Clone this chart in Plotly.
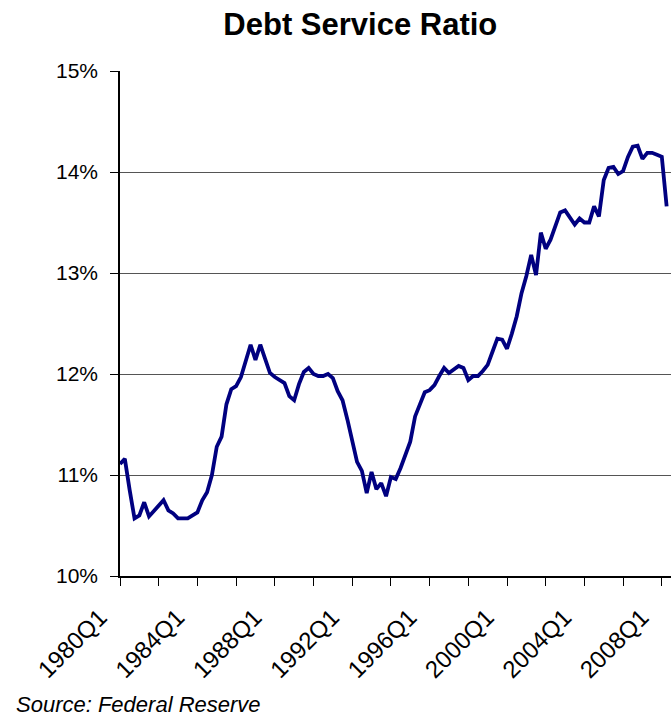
import plotly.graph_objects as go

# Quarterly debt service ratio (%), 1980Q1 .. 2008Q2
start_year = 1980
dsr = [
    11.11, 11.16, 10.85, 10.57, 10.60, 10.73, 10.59, 10.64, 10.69, 10.75,
    10.65, 10.62, 10.57, 10.57, 10.57, 10.60, 10.63, 10.75, 10.83, 11.00,
    11.28, 11.38, 11.70, 11.85, 11.88, 11.97, 12.12, 12.29, 12.14, 12.29,
    12.15, 12.01, 11.97, 11.94, 11.91, 11.78, 11.74, 11.90, 12.02, 12.06,
    12.00, 11.98, 11.98, 12.00, 11.96, 11.83, 11.74, 11.55, 11.33, 11.13,
    11.04, 10.82, 11.03, 10.86, 10.92, 10.79, 10.98, 10.96, 11.07, 11.19,
    11.33, 11.58, 11.69, 11.82, 11.84, 11.89, 11.98, 12.06, 12.01, 12.05,
    12.08, 12.06, 11.94, 11.98, 11.98, 12.03, 12.09, 12.22, 12.35, 12.34,
    12.25, 12.40, 12.57, 12.80, 12.97, 13.18, 12.98, 13.40, 13.24, 13.33,
    13.47, 13.60, 13.62, 13.55, 13.48, 13.54, 13.50, 13.50, 13.66, 13.56,
    13.92, 14.04, 14.05, 13.98, 14.01, 14.15, 14.25, 14.26, 14.13, 14.19,
    14.19, 14.17, 14.15, 13.66,
]
quarters = [f"{start_year + i // 4}Q{i % 4 + 1}" for i in range(len(dsr))]
idx = list(range(len(dsr)))

tick_pos = list(range(0, len(dsr), 8))
tick_text = [quarters[i] if i % 16 == 0 else "" for i in tick_pos]

y_ticks = [10, 11, 12, 13, 14, 15]
y_text = [f"{v}%" for v in y_ticks]

fig = go.Figure()
fig.add_trace(go.Scatter(
    x=idx, y=dsr, mode="lines",
    line=dict(color="#000080", width=3.8),
    text=quarters, hoverinfo="text+y", showlegend=False,
))

fig.update_layout(
    width=671, height=716,
    margin=dict(l=120, r=0, t=71, b=140),
    paper_bgcolor="white", plot_bgcolor="white",
    font=dict(family="Liberation Sans, Arial, sans-serif", color="black"),
    title=dict(text="<b>Debt Service Ratio</b>", x=0.537, xanchor="center",
               y=0.966, yanchor="middle", font=dict(size=31, color="black")),
    xaxis=dict(
        range=[0, 113.9], tickmode="array", tickvals=tick_pos, ticktext=tick_text,
        tickangle=-45, tickfont=dict(size=24), ticks="outside", ticklen=8,
        ticklabelstandoff=8, ticklabelshift=-20,
        tickcolor="black", showline=True, linecolor="black", linewidth=1.5,
        showgrid=False, zeroline=False,
    ),
    yaxis=dict(
        range=[10, 15], tickmode="array", tickvals=y_ticks, ticktext=y_text,
        tickfont=dict(size=21), ticks="outside", ticklen=8, tickcolor="black",
        ticklabelstandoff=8,
        showline=True, linecolor="black", linewidth=1.5,
        showgrid=True, gridcolor="#555555", gridwidth=1, zeroline=False,
    ),
    annotations=[dict(
        text="<i>Source: Federal Reserve</i>", xref="paper", yref="paper",
        x=(14 - 120) / 551, y=-(704 - 576) / 505, xanchor="left", yanchor="middle",
        showarrow=False, font=dict(size=22, color="black"),
    )],
)

fig.write_html(
    "out.html",
    config={"displayModeBar": False},
    post_script="document.body.style.margin='0px';"
                "document.documentElement.style.overflow='hidden';",
)
